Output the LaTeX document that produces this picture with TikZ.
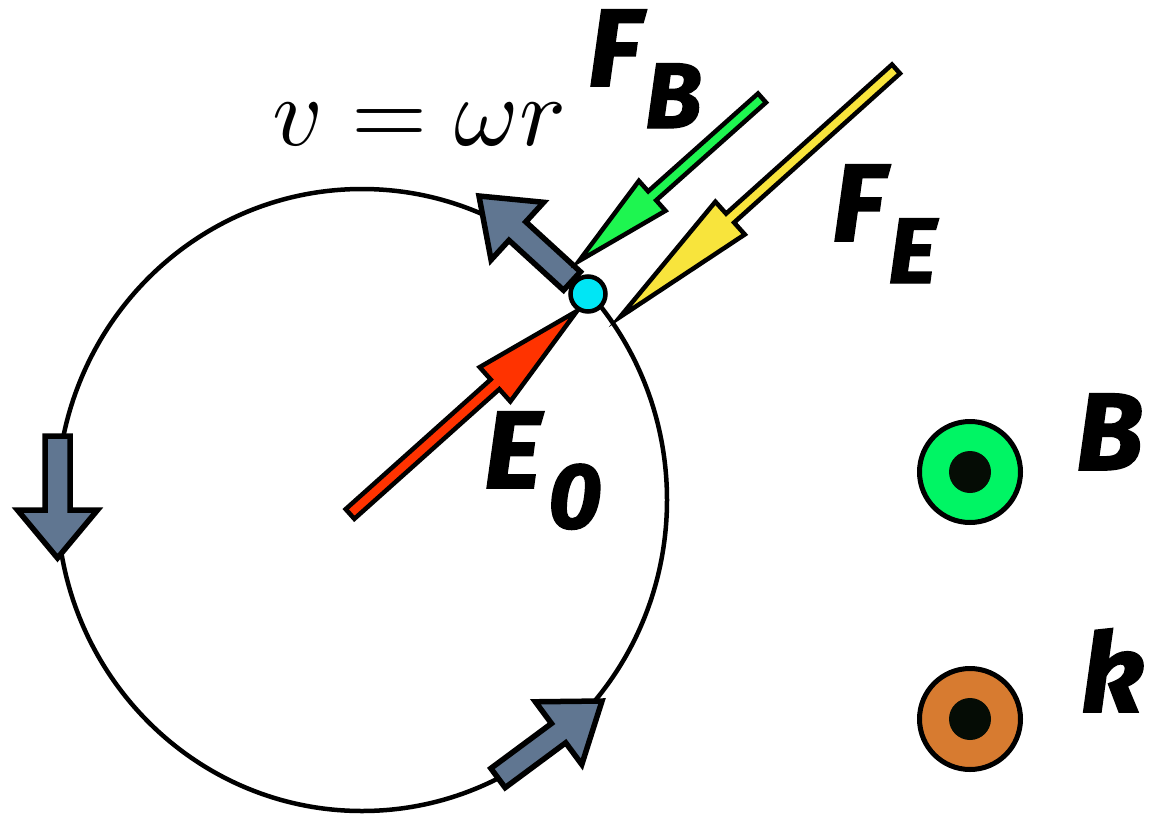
\documentclass[tikz,border=0pt]{standalone}
\usepackage{fontspec}
\usetikzlibrary{calc}
\newfontfamily\labfont{Fira Sans}[BoldItalicFeatures={FakeBold=1.5}]
\definecolor{slate}{RGB}{96,118,145}
\definecolor{ered}{RGB}{255,51,0}
\definecolor{fgreen}{RGB}{30,245,80}
\definecolor{fyellow}{RGB}{248,228,60}
\definecolor{pcyan}{RGB}{0,230,245}
\definecolor{bgreen}{RGB}{0,245,100}
\definecolor{korange}{RGB}{215,123,48}
\definecolor{dotblack}{RGB}{5,12,5}
\tikzset{
  arrowline/.style={draw=black, line width=5.5pt, line join=miter, miter limit=10},
  thinarrow/.style={arrowline, line width=4.5pt},
  biglab/.style={anchor=base west, inner sep=0pt, font=\labfont\bfseries\itshape\fontsize{110}{110}\selectfont},
  sublab/.style={anchor=base west, inner sep=0pt, font=\labfont\bfseries\itshape\fontsize{93}{93}\selectfont},
  ring/.style={circle, draw=black, line width=5pt, minimum size=101pt, inner sep=0pt},
  core/.style={circle, fill=dotblack, minimum size=42pt, inner sep=0pt}
}
% tail, tip, shaft half-width, head half-width, head length, style
\newcommand{\fatarrow}[6]{%
  \coordinate (hb) at ($(#2)!#5!(#1)$);
  \filldraw[#6]
    ($(#1)!#3!90:(#2)$) -- ($(hb)!#3!90:(#2)$) -- ($(hb)!#4!90:(#2)$) -- (#2)
    -- ($(hb)!#4!-90:(#2)$) -- ($(hb)!#3!-90:(#2)$) -- ($(#1)!#3!-90:(#2)$) -- cycle;
}
\begin{document}
\begin{tikzpicture}[x=1pt,y=-1pt]
\useasboundingbox (0,0) rectangle (1149,817);
% orbit
\coordinate (c) at (362,500);
\draw[line width=4.5pt] (c) ellipse [x radius=305, y radius=311];
% named end points
\coordinate (gtopT) at (572,281);  \coordinate (gtopP) at (479,196);
\coordinate (gleftT) at (57.5,436); \coordinate (gleftP) at (57.5,558);
\coordinate (gbotT) at (498,778);  \coordinate (gbotP) at (602,701);
\coordinate (eT) at (350,514);     \coordinate (eP) at (577,311);
\coordinate (fbT) at (762,98);     \coordinate (fbP) at (579,261);
\coordinate (feT) at (896,69);     \coordinate (feP) at (620,317);
% velocity arrows
\fatarrow{gtopT}{gtopP}{12.5pt}{39pt}{52pt}{arrowline, fill=slate}
\fatarrow{gleftT}{gleftP}{12.5pt}{40pt}{48pt}{arrowline, fill=slate}
\fatarrow{gbotT}{gbotP}{12pt}{39pt}{54pt}{arrowline, fill=slate}
% field / force arrows
\fatarrow{eT}{eP}{6.5pt}{23pt}{110pt}{thinarrow, fill=ered}
\fatarrow{fbT}{fbP}{6pt}{20pt}{98pt}{thinarrow, fill=fgreen}
\fatarrow{feT}{feP}{6pt}{22pt}{148pt}{thinarrow, fill=fyellow}
% particle
\node[circle, draw=black, line width=4.5pt, fill=pcyan, minimum size=35pt, inner sep=0pt] (q) at (588,294) {};
% B and k symbols
\node[ring, fill=bgreen] (Bring) at (970,472) {};
\node[core] (Bcore) at (Bring) {};
\node[ring, fill=korange] (kring) at (970,719) {};
\node[core] (kcore) at (kring) {};
% labels
\node[anchor=base west, inner sep=0pt, scale=9.8] (vel) at (271,145) {$v=\omega r$};
\node[biglab] (FBf) at (588,86) {F};
\node[sublab] (FBs) at (645,128) {B};
\node[biglab] (FEf) at (832,241) {F};
\node[sublab] (FEs) at (888,283) {E};
\node[biglab] (E0e) at (484,488) {E};
\node[sublab] (E0s) at (548,528) {0};
\node[biglab] (Blab) at (1076,470) {B};
\node[biglab] (klab) at (1081,712) {k};
\end{tikzpicture}
\end{document}
